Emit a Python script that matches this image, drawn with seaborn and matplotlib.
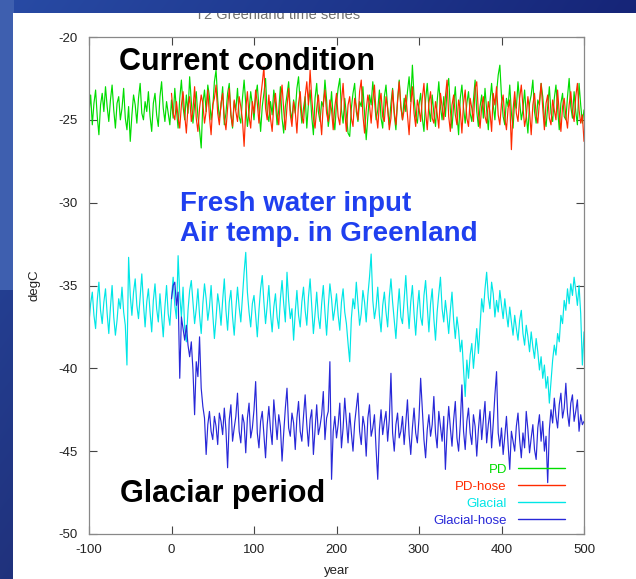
import numpy as np
import pandas as pd
import matplotlib
matplotlib.use("Agg")
import matplotlib.pyplot as plt
from matplotlib.patches import Rectangle
from matplotlib.lines import Line2D
import seaborn as sns

# ---- model output: annual-mean 2 m air temperature over Greenland (degC) ----
years_long = list(range(-100, 501, 2))   # PD and Glacial runs
years_hose = list(range(0, 501, 2))      # hosing runs start at year 0

pd_temp = [
    -24.6, -23.5, -25.3, -24.0, -23.2, -24.8, -25.9, -24.1, -23.4, -24.5,
    -23.0, -24.2, -25.1, -23.8, -22.9, -24.4, -25.5, -24.0, -23.6, -25.0,
    -24.3, -23.1, -24.9, -25.6, -24.2, -26.3, -24.7, -23.5, -24.1, -25.2,
    -23.7, -22.8, -24.6, -25.0, -23.9, -24.5, -23.3, -24.8, -25.7, -24.0,
    -23.4, -24.7, -25.4, -23.6, -22.7, -24.3, -25.1, -23.9, -24.6, -25.3,
    -23.8, -24.9, -23.1, -24.4, -25.5, -23.7, -22.6, -24.2, -25.0, -23.5,
    -24.6, -22.4, -23.9, -25.2, -24.1, -23.3, -24.8, -25.6, -26.7, -24.0,
    -23.2, -24.5, -22.9, -23.6, -25.0, -24.3, -22.7, -22.0, -23.8, -24.9,
    -24.2, -23.0, -25.3, -24.6, -23.4, -22.8, -24.7, -25.5, -23.9, -24.4,
    -23.1, -24.8, -25.2, -23.7, -22.6, -24.0, -25.4, -24.5, -23.3, -24.1,
    -25.0, -23.6, -22.9, -24.3, -25.7, -24.2, -23.4, -22.5, -24.6, -25.1,
    -23.9, -24.7, -23.2, -24.0, -25.3, -24.4, -23.0, -24.9, -25.8, -24.2,
    -23.5, -22.7, -24.4, -25.0, -23.8, -24.6, -23.1, -22.4, -24.1, -25.2,
    -24.3, -23.6, -25.5, -24.0, -23.2, -24.8, -25.9, -23.7, -22.8, -24.5,
    -25.1, -23.9, -24.2, -22.6, -23.8, -25.4, -24.6, -23.3, -24.9, -25.6,
    -24.0, -23.1, -22.5, -24.4, -25.2, -23.7, -24.7, -25.8, -26.0, -24.3,
    -23.4, -22.8, -24.5, -25.1, -23.9, -24.2, -23.0, -24.6, -26.2, -24.8,
    -23.5, -24.1, -22.7, -23.8, -25.0, -24.4, -23.2, -24.9, -25.5, -23.6,
    -22.9, -24.3, -25.3, -24.0, -23.1, -24.7, -25.6, -23.8, -22.6, -24.2,
    -25.0, -23.7, -24.5, -23.3, -22.4, -23.9, -21.7, -23.6, -24.8, -25.2,
    -24.1, -23.4, -24.9, -25.7, -23.8, -22.8, -24.3, -25.1, -23.5, -24.6,
    -25.4, -23.9, -22.7, -24.2, -25.0, -23.6, -24.8, -23.2, -22.5, -24.4,
    -25.5, -24.1, -23.0, -24.7, -25.9, -23.7, -22.9, -24.3, -25.2, -24.0,
    -23.3, -24.6, -25.1, -23.8, -22.6, -24.5, -25.4, -24.2, -23.5, -24.9,
    -23.1, -24.4, -25.6, -23.9, -22.8, -24.1, -25.0, -23.4, -22.3, -21.7,
    -23.6, -24.8, -25.3, -23.7, -24.2, -22.9, -24.6, -25.5, -23.8, -24.3,
    -22.7, -23.9, -25.0, -24.4, -23.2, -24.7, -25.8, -24.0, -23.5, -22.6,
    -24.5, -25.2, -23.8, -24.1, -22.8, -23.6, -24.9, -25.4, -24.2, -23.0,
    -24.6, -25.1, -23.7, -22.9, -24.3, -25.6, -24.0, -23.4, -24.8, -25.0,
    -23.6, -22.5, -24.2, -24.9, -23.3, -24.5, -25.3, -22.8, -24.1, -25.2,
    -24.4,
]

pd_hose_temp = [
    -23.4, -24.6, -25.0, -23.9, -24.8, -25.5, -24.1, -23.3, -24.7, -25.8,
    -24.2, -23.6, -25.1, -24.4, -23.0, -24.9, -25.7, -24.3, -23.5, -24.0,
    -25.2, -24.5, -23.2, -24.8, -25.9, -24.1, -23.7, -22.9, -24.6, -25.3,
    -24.0, -23.4, -24.9, -25.6, -24.3, -23.1, -24.7, -25.4, -23.8, -24.5,
    -25.1, -23.6, -24.2, -25.0, -26.6, -24.4, -23.3, -24.8, -25.5, -23.9,
    -24.6, -23.2, -24.0, -25.2, -23.7, -22.8, -21.8, -24.3, -25.0, -23.5,
    -24.9, -25.7, -24.1, -23.4, -24.6, -25.3, -23.8, -22.9, -24.4, -25.6,
    -24.2, -23.1, -24.7, -25.4, -23.9, -24.5, -25.8, -24.0, -23.3, -24.8,
    -25.2, -23.6, -22.7, -24.1, -22.0, -23.7, -24.9, -25.5, -24.3, -23.5,
    -24.7, -25.9, -24.0, -23.2, -24.6, -25.1, -23.8, -24.4, -25.6, -24.2,
    -23.4, -24.8, -25.3, -23.9, -22.8, -24.5, -25.7, -24.1, -23.6, -24.9,
    -25.4, -23.7, -24.2, -25.0, -23.3, -22.6, -24.7, -25.8, -24.4, -23.5,
    -24.1, -25.2, -23.8, -22.9, -24.6, -25.5, -24.0, -23.4, -24.8, -25.1,
    -23.6, -24.3, -25.6, -24.9, -23.2, -24.5, -25.3, -23.9, -22.7, -24.2,
    -25.0, -24.4, -23.5, -24.7, -25.9, -24.1, -23.0, -24.6, -25.4, -23.8,
    -24.3, -25.1, -23.7, -22.8, -24.5, -25.6, -24.0, -23.3, -24.9, -25.2,
    -23.9, -24.6, -25.5, -23.4, -24.2, -25.0, -23.6, -22.6, -24.8, -25.7,
    -24.1, -23.5, -24.7, -25.3, -23.8, -24.4, -25.8, -24.0, -23.2, -24.9,
    -25.4, -23.7, -24.3, -25.1, -23.1, -22.7, -24.6, -25.5, -24.2, -23.6,
    -24.8, -25.2, -23.9, -24.5, -25.7, -23.4, -24.1, -23.0, -24.7, -25.3,
    -24.0, -23.5, -24.9, -25.6, -24.3, -23.8, -26.8, -24.4, -23.3, -24.6,
    -25.1, -23.7, -22.9, -24.2, -25.4, -24.8, -23.6, -24.5, -25.9, -24.1,
    -23.4, -24.7, -25.2, -23.9, -22.8, -24.3, -25.6, -24.0, -23.5, -24.9,
    -25.3, -23.8, -24.4, -25.0, -23.2, -24.6, -25.7, -24.2, -23.7, -24.8,
    -25.5, -24.1, -23.3, -24.5, -25.1, -23.6, -22.8, -24.4, -25.2, -24.7,
    -26.3,
]

glacial_temp = [
    -37.2, -36.1, -35.4, -36.8, -37.6, -35.9, -34.8, -36.5, -37.3, -36.0,
    -35.2, -36.7, -37.9, -36.3, -35.0, -36.9, -38.0, -37.1, -35.8, -36.4,
    -35.1, -36.6, -37.4, -39.8, -33.3, -35.6, -36.8, -35.4, -34.6, -36.2,
    -37.0, -35.7, -34.3, -36.1, -37.5, -36.0, -35.2, -36.6, -37.8, -35.9,
    -34.9, -36.4, -37.2, -35.5, -36.8, -38.1, -36.3, -35.0, -36.7, -37.4,
    -35.8, -34.5, -36.2, -37.0, -33.2, -35.6, -36.9, -35.1, -37.6, -38.4,
    -36.5, -35.3, -34.7, -36.0, -37.3, -36.4, -35.2, -36.8, -37.9, -36.1,
    -34.9, -35.8, -37.1, -36.3, -35.0, -36.7, -38.2, -37.0, -35.5, -36.2,
    -37.4, -35.9, -34.6, -36.5, -37.7, -36.0, -35.3, -36.9, -38.0, -36.4,
    -35.1, -36.3, -37.2, -35.7, -34.2, -33.0, -35.4, -36.6, -37.5, -36.1,
    -35.6, -36.8, -38.1, -36.5, -35.2, -34.4, -36.0, -37.3, -36.2, -35.0,
    -36.7, -37.8, -36.3, -35.5, -36.9, -37.6, -35.8, -34.7, -36.1, -37.2,
    -34.2, -35.9, -37.0, -36.4, -38.3, -36.6, -35.3, -36.8, -37.5, -36.0,
    -35.1, -36.5, -37.4, -35.7, -34.6, -36.2, -37.9, -36.7, -35.4, -36.9,
    -37.6, -36.1, -35.0, -36.6, -38.0, -36.3, -34.9, -35.8, -37.1, -36.4,
    -35.5, -36.8, -37.7, -36.0, -35.2, -36.6, -37.3, -38.5, -39.6, -37.0,
    -35.8, -36.4, -34.8, -36.1, -37.4, -36.7, -35.3, -36.0, -37.2, -35.6,
    -34.5, -33.1, -35.9, -37.0, -36.3, -35.1, -36.8, -37.8, -36.2, -35.4,
    -36.6, -37.5, -35.7, -34.6, -36.0, -37.1, -38.2, -36.5, -35.2, -36.9,
    -37.3, -35.8, -34.4, -36.2, -37.6, -36.0, -35.0, -36.7, -38.0, -36.4,
    -35.3, -36.9, -37.4, -35.6, -34.7, -36.3, -37.8, -36.1, -35.2, -37.0,
    -38.3, -36.6, -35.5, -34.5, -36.4, -37.2, -35.9, -36.8, -37.9, -36.5,
    -35.4, -37.1, -38.2, -36.9, -37.7, -39.0, -38.3, -40.1, -41.7, -39.5,
    -40.6, -39.2, -38.5, -40.0, -38.8, -37.6, -39.1, -37.4, -35.8, -36.6,
    -35.2, -34.2, -35.7, -36.4, -34.8, -35.5, -36.9, -35.9, -36.6, -35.3,
    -36.2, -37.0, -35.8, -36.7, -37.5, -36.3, -37.2, -38.0, -36.8, -37.6,
    -38.3, -37.1, -36.5, -37.9, -38.6, -37.4, -38.1, -39.0, -37.8, -38.7,
    -39.4, -38.2, -39.0, -40.1, -39.3, -40.6, -39.8, -41.2, -40.5, -42.1,
    -40.8, -39.5, -38.6, -39.2, -37.9, -38.4, -36.8, -37.3, -35.9, -36.5,
    -35.2, -36.1, -34.9, -35.6, -34.5, -35.3, -36.2, -35.0, -36.7, -39.8,
    -37.8,
]

glacial_hose_temp = [
    -35.8, -35.0, -34.8, -36.2, -35.4, -40.6, -36.9, -37.6, -38.3, -37.4,
    -38.6, -39.3, -38.4, -40.1, -42.8, -39.6, -40.5, -38.1, -41.2, -42.3,
    -43.0, -45.2, -43.4, -42.6, -43.8, -44.3, -42.9, -43.5, -44.6, -42.7,
    -43.2, -44.0, -42.4, -43.7, -46.0, -43.1, -42.2, -44.4, -43.6, -42.9,
    -41.5, -43.8, -44.5, -42.8, -43.3, -45.1, -43.0, -42.1, -44.2, -43.6,
    -42.5, -40.8, -43.9, -44.8, -43.2, -42.6, -44.0, -45.4, -43.4, -42.3,
    -43.7, -44.6, -41.9, -43.1, -44.3, -42.8, -43.5, -45.6, -43.9, -42.4,
    -41.2, -43.6, -44.1, -42.7, -43.3, -44.9, -43.0, -42.0, -43.8, -44.4,
    -42.9, -41.6, -43.4, -44.7, -43.1, -42.5, -45.2, -43.7, -42.2, -44.0,
    -43.5, -42.8, -41.4, -44.3, -43.0, -42.6, -39.6, -46.7, -43.8, -42.9,
    -44.2, -43.4, -42.1, -44.8, -43.6, -41.8, -43.2, -44.5, -42.7, -43.9,
    -45.0, -43.3, -42.4, -41.5, -43.8, -44.6, -42.9, -43.5, -45.3, -43.0,
    -42.2, -44.1, -43.6, -42.8, -44.9, -46.7, -43.7, -42.5, -44.0, -43.2,
    -42.6, -44.4, -43.1, -40.3, -43.9, -45.0, -43.4, -42.7, -44.2, -43.8,
    -42.9, -44.6, -43.3, -41.9, -44.0, -45.2, -43.6, -42.4, -43.9, -44.5,
    -43.0, -40.6, -42.5, -44.3, -45.4, -43.7, -42.8, -44.1, -43.4, -41.7,
    -43.9, -44.8, -42.6, -43.5, -44.4, -42.9, -46.1, -43.8, -42.3, -43.6,
    -44.7, -43.1, -42.0, -44.2, -45.0, -43.4, -41.0, -43.8, -44.9, -43.2,
    -42.4, -43.9, -44.6, -42.8, -43.5, -45.3, -43.7, -42.5, -44.3, -43.1,
    -42.0, -44.5, -43.4, -42.6, -44.8, -43.3, -41.6, -40.2, -43.9, -44.7,
    -43.6, -45.2, -44.1, -42.9, -44.6, -46.1, -43.8, -44.4, -45.0, -43.5,
    -42.7, -44.3, -45.4, -43.9, -44.8, -42.6, -43.7, -45.1, -44.2, -43.4,
    -44.9, -45.5, -43.6, -42.8, -44.4, -43.2, -45.0, -44.1, -46.9, -43.7,
    -42.5, -43.3, -41.8, -42.9, -43.6, -42.2, -41.5, -43.0, -42.4, -40.9,
    -42.7, -43.5, -42.1, -41.6, -43.2, -42.6, -41.9, -43.8, -42.8, -43.4,
    -43.2,
]

run_names = ["PD", "PD-hose", "Glacial", "Glacial-hose"]
run_colors = ["#00dd00", "#ff2a00", "#00e6e6", "#2828d8"]

frames = [
    pd.DataFrame({"year": years_long, "degC": pd_temp, "run": "PD"}),
    pd.DataFrame({"year": years_hose, "degC": pd_hose_temp, "run": "PD-hose"}),
    pd.DataFrame({"year": years_long, "degC": glacial_temp, "run": "Glacial"}),
    pd.DataFrame({"year": years_hose, "degC": glacial_hose_temp, "run": "Glacial-hose"}),
]
df = pd.concat(frames, ignore_index=True)

sns.set_theme(style="ticks")
plt.rcParams["font.family"] = ["Liberation Sans", "DejaVu Sans"]
plt.rcParams["axes.unicode_minus"] = False

W, H = 636, 579
fig = plt.figure(figsize=(W / 100, H / 100), dpi=100)

# ---- slide background: blue gradient with a white panel ----
bg = fig.add_axes([0, 0, 1, 1], zorder=0)
bg.set_xlim(0, W)
bg.set_ylim(H, 0)
bg.axis("off")
yy, xx = np.mgrid[0:H, 0:W]
fx = xx / W
fy = yy / H
r = 40 - 18 * fx - 8 * fy
g = 75 - 38 * fx - 25 * fy
b = 165 - 45 * fx - 40 * fy
light = (xx < 14) & (yy < 290)
r = np.where(light, 62, r)
g = np.where(light, 95, g)
b = np.where(light, 175, b)
img = np.clip(np.dstack([r, g, b]) / 255.0, 0, 1)
bg.imshow(img, extent=(0, W, H, 0), aspect="auto", interpolation="bilinear",
          zorder=0)
bg.add_patch(Rectangle((13, 13), W - 13, H - 13, facecolor="white",
                       edgecolor="none", zorder=1))
bg.text(278, 19, "T2 Greenland time series", ha="center", va="baseline",
        fontsize=10.5, color="#707070", zorder=2)
# top band of the slide drawn over the panel edge
bg.imshow(img[:13], extent=(0, W, 13, 0), aspect="auto",
          interpolation="bilinear", zorder=3)
bg.set_xlim(0, W)
bg.set_ylim(H, 0)

# ---- time-series axes ----
ax = fig.add_axes([89 / W, 1 - 534 / H, (584 - 89) / W, (534 - 37) / H], zorder=1)
ax.set_facecolor("white")
sns.lineplot(data=df, x="year", y="degC", hue="run", hue_order=run_names,
             palette=dict(zip(run_names, run_colors)), linewidth=0.85,
             estimator=None, legend=False, ax=ax)

ax.set_xlim(-100, 500)
ax.set_ylim(-50, -20)
ax.set_xticks(range(-100, 501, 100))
ax.set_yticks(range(-50, -19, 5))
ax.tick_params(direction="in", top=True, right=True, length=6, width=0.8,
               color="#444444", labelsize=9.5, labelcolor="#222222")
ax.tick_params(axis="x", pad=7)
ax.tick_params(axis="y", pad=8)
for sp in ax.spines.values():
    sp.set_color("#888888")
    sp.set_linewidth(0.9)
ax.set_xlabel("year", fontsize=9.5, color="#222222", labelpad=7)
ax.set_ylabel("degC", fontsize=9.5, color="#222222", labelpad=13)

handles = [Line2D([], [], color=c, linewidth=1.0) for c in run_colors]
ax.legend(handles, run_names, loc="lower right",
          bbox_to_anchor=((565 - 89) / 495, (534 - 527) / 497),
          frameon=False, markerfirst=False, labelcolor=run_colors,
          fontsize=9.5, handlelength=3.6, handletextpad=0.8,
          labelspacing=0.36, borderpad=0, borderaxespad=0)


def px_text(x, y, s, **kw):
    fig.text(x / W, 1 - y / H, s, zorder=5, **kw)


px_text(119, 70, "Current condition", fontsize=22, fontweight="bold",
        color="black", va="baseline", ha="left")
px_text(180, 211, "Fresh water input", fontsize=20, fontweight="bold",
        color="#1f3fef", va="baseline", ha="left")
px_text(180, 241, "Air temp. in Greenland", fontsize=20, fontweight="bold",
        color="#1f3fef", va="baseline", ha="left")
px_text(120, 502, "Glaciar period", fontsize=22, fontweight="bold",
        color="black", va="baseline", ha="left")

fig.savefig("out.png", dpi=100)
